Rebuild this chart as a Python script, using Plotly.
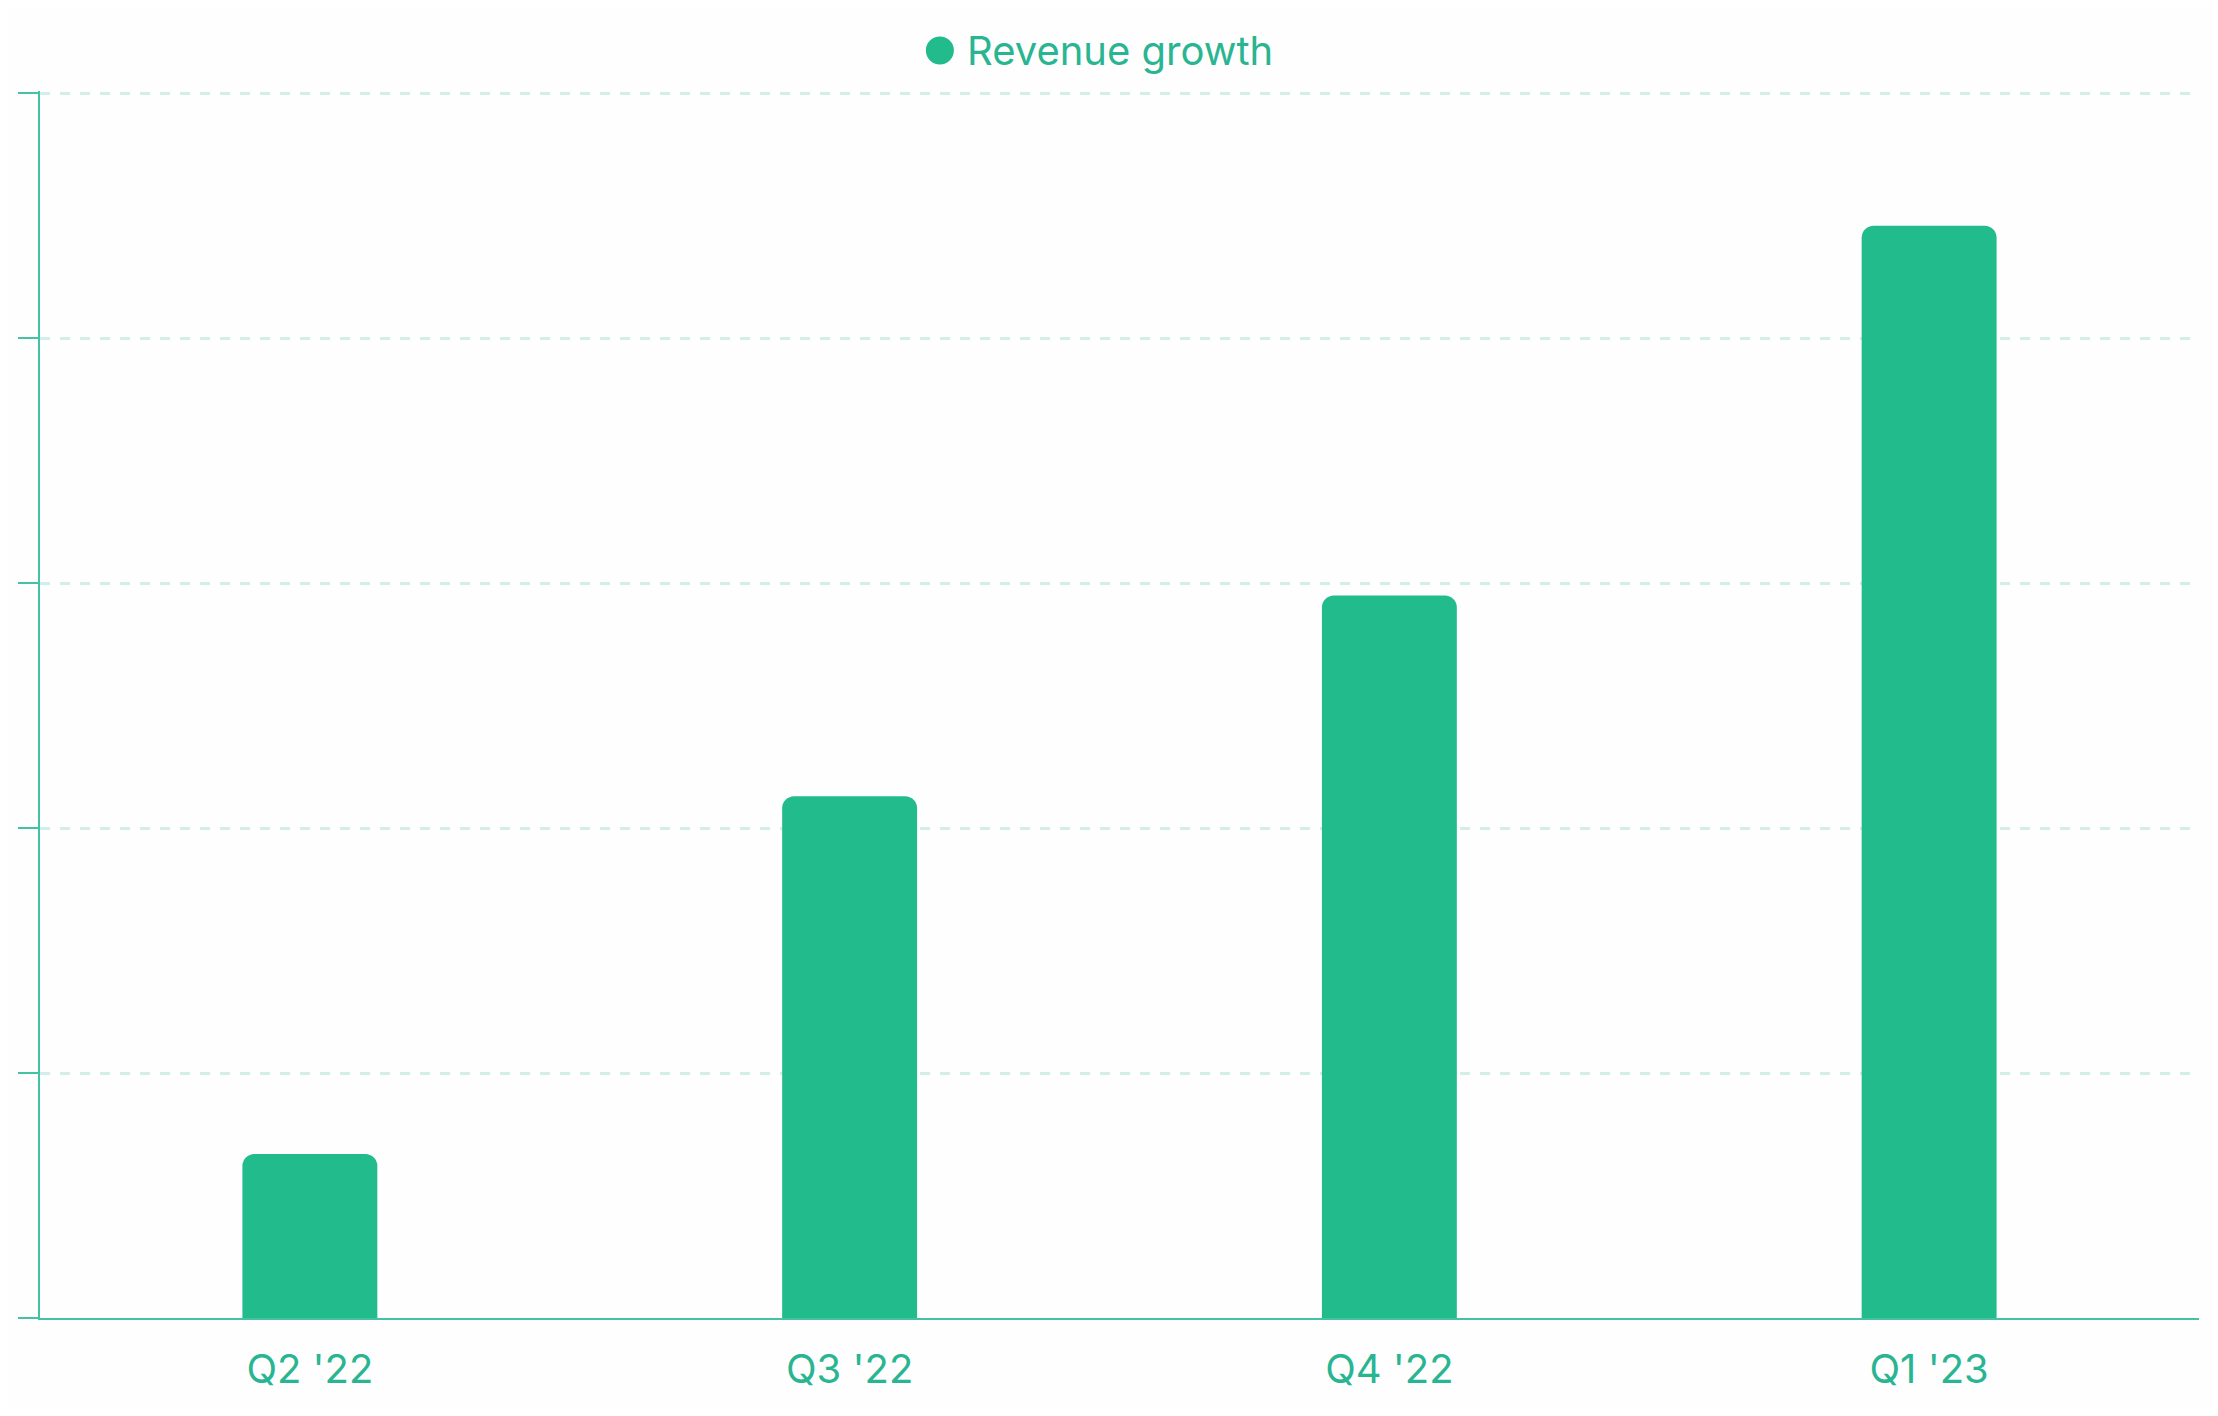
import plotly.graph_objects as go

quarters = ["Q2 '22", "Q3 '22", "Q4 '22", "Q1 '23"]
revenue_growth = [0.67, 2.13, 2.95, 4.46]
y_ticks = [0, 1, 2, 3, 4, 5]
series_name = "Revenue growth"

green = "#22BB8B"
text_green = "#2AB592"
axis_green = "#45C2A3"
grid_color = "#D1EFE8"

fig = go.Figure()

fig.add_trace(go.Bar(
    x=quarters,
    y=revenue_growth,
    name=series_name,
    marker=dict(color=green, cornerradius=12, line=dict(width=0)),
    width=0.25,
    showlegend=False,
))

# Legend drawn as a circle + label so the dot can be as big as the reference
fig.add_shape(
    type="circle", xref="paper", yref="paper",
    xsizemode="pixel", ysizemode="pixel",
    xanchor=0.4168, yanchor=1.033,
    x0=-14, x1=14, y0=-14, y1=14,
    fillcolor=green, line=dict(width=0),
)
fig.add_annotation(
    text=series_name, xref="paper", yref="paper",
    x=0.4285, y=1.033, xanchor="left", yanchor="middle",
    showarrow=False, font=dict(family="Inter", size=40, color=text_green),
)

# page body adds an 8px margin, so the figure is sized to fit inside it
fig.update_layout(
    width=2202,
    height=1400,
    margin=dict(l=32, r=11, t=83, b=90),
    paper_bgcolor="#FEFEFE",
    plot_bgcolor="#FEFEFE",
    font=dict(family="Inter", size=40, color=text_green),
    showlegend=False,
    bargap=0.75,
)

fig.update_xaxes(
    showline=True, linecolor=axis_green, linewidth=2,
    showgrid=False, ticks="", zeroline=False,
    tickfont=dict(family="Inter", size=40, color=text_green),
    ticklabelstandoff=15,
)

# range a touch above 5 so the top gridline is still drawn
fig.update_yaxes(
    range=[0, 5.01], tickvals=y_ticks, showticklabels=False,
    showline=True, linecolor=axis_green, linewidth=2,
    ticks="outside", ticklen=20, tickcolor=axis_green, tickwidth=2,
    showgrid=True, gridcolor=grid_color, gridwidth=2.5, griddash="10px,10px",
    zeroline=False,
)

fig.write_html("out.html")
